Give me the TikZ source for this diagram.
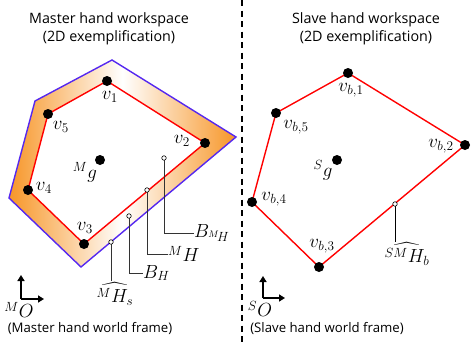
\RequirePackage{fix-cm}
\documentclass[tikz,border=0pt]{standalone}
\usepackage{amsmath}
\usepackage{fontspec}
\usetikzlibrary{arrows.meta}
\newfontfamily\sansf{Open Sans}
\definecolor{wsblue}{RGB}{85,40,240}
\definecolor{wsorange}{RGB}{247,150,40}
\begin{document}
\begin{tikzpicture}[x=1pt,y=-1pt,
  vtx/.style={circle,fill=black,inner sep=0pt,minimum size=10pt},
  pin/.style={circle,draw=black,fill=white,inner sep=0pt,minimum size=4.5pt,line width=0.6pt},
  lab/.style={inner sep=0pt,font=\fontsize{19}{22}\selectfont},
  ttl/.style={inner sep=0pt,font=\sansf\fontsize{14.3}{18}\selectfont,align=center},
  captxt/.style={inner sep=0pt,font=\sansf\fontsize{13.2}{16}\selectfont},
  lead/.style={draw=black!80,line width=0.8pt},
  redl/.style={draw=red,line width=1.4pt,line join=miter},
  bluel/.style={draw=wsblue,line width=1.4pt,line join=miter},
  frm/.style={line width=1.5pt,-{Triangle[width=7pt,length=6pt]}}]
\useasboundingbox (0,0) rectangle (472,343);
% master polygons
\coordinate (o1) at (112,60);
\coordinate (o2) at (236,137);
\coordinate (o3) at (81,267);
\coordinate (o4) at (9,198);
\coordinate (o5) at (35,101);
\coordinate (p1) at (107,81);
\coordinate (p2) at (205,143);
\coordinate (p3) at (84,244);
\coordinate (p4) at (28,190);
\coordinate (p5) at (48,114);
\shade[left color=wsorange,right color=wsorange,middle color=white]
  (o1) -- (o2) -- (o3) -- (o4) -- (o5) -- cycle;
\fill[white] (p1) -- (p2) -- (p3) -- (p4) -- (p5) -- cycle;
\draw[bluel] (o1) -- (o2) -- (o3) -- (o4) -- (o5) -- cycle;
\draw[redl] (p1) -- (p2) -- (p3) -- (p4) -- (p5) -- cycle;
\node[vtx] (v1) at (p1) {};
\node[vtx] (v2) at (p2) {};
\node[vtx] (v3) at (p3) {};
\node[vtx] (v4) at (p4) {};
\node[vtx] (v5) at (p5) {};
\node[vtx] (mg) at (100,160) {};
\node[lab] (lv1) at (110,97) {$v_1$};
\node[lab] (lv2) at (182,141) {$v_2$};
\node[lab] (lv3) at (85,228) {$v_3$};
\node[lab] (lv4) at (44,188) {$v_4$};
\node[lab] (lv5) at (61,127) {$v_5$};
\node[lab] (lmg) at (85,172) {$^{M}g$};
% pins and leaders
\node[lab,anchor=west] (lbmh) at (194,233) {$B_{{}^{M}\!H}$};
\node[lab,anchor=west] (lmh) at (168,254) {$^{M}H$};
\node[lab,anchor=west] (lbh) at (143,273) {$B_H$};
\node[lab] (lmhs) at (115,294) {$\widehat{{}^{M}H_s}$};
\draw[lead] (164,158) |- (lbmh.west);
\draw[lead] (147,190) |- (lmh.west);
\draw[lead] (129,216) |- (lbh.west);
\draw[lead] (111,242) -- (111,281);
\node[pin] (bmh) at (164,158) {};
\node[pin] (mh) at (147,190) {};
\node[pin] (bh) at (129,216) {};
\node[pin] (mhs) at (111,242) {};
% slave polygon
\coordinate (q1) at (348,73);
\coordinate (q2) at (465,145);
\coordinate (q3) at (319,267);
\coordinate (q4) at (252,202);
\coordinate (q5) at (276,113);
\draw[redl] (q1) -- (q2) -- (q3) -- (q4) -- (q5) -- cycle;
\node[vtx] (w1) at (q1) {};
\node[vtx] (w2) at (q2) {};
\node[vtx] (w3) at (q3) {};
\node[vtx] (w4) at (q4) {};
\node[vtx] (w5) at (q5) {};
\node[vtx] (sg) at (337,160) {};
\node[lab] (lw1) at (351,90) {$v_{b,1}$};
\node[lab] (lw2) at (441,146) {$v_{b,2}$};
\node[lab] (lw3) at (322,246) {$v_{b,3}$};
\node[lab] (lw4) at (274,199) {$v_{b,4}$};
\node[lab] (lw5) at (296,127) {$v_{b,5}$};
\node[lab] (lsg) at (323,170) {$^{S}g$};
\node[lab] (lsmh) at (407,254) {$\widehat{{}^{SM}H_b}$};
\draw[lead,draw=black] (395,204) -- (395,242);
\node[pin] (smh) at (395,204) {};
% frames
\coordinate (mo) at (21,299);
\coordinate (so) at (263,298);
\draw[frm] (mo) -- ++(0,-24);
\draw[frm] (mo) -- ++(23,0);
\draw[frm] (so) -- ++(0,-22);
\draw[frm] (so) -- ++(22,0);
\node[lab] (lmo) at (19,310) {$^{M}O$};
\node[lab] (lso) at (260,309) {$^{S}O$};
% texts
\node[ttl] (tm) at (109,29) {Master hand workspace\\(2D exemplification)};
\node[ttl] (ts) at (366,29) {Slave hand workspace\\(2D exemplification)};
\node[captxt] (cm) at (90,328) {(Master hand world frame)};
\node[captxt] (cs) at (327,328) {(Slave hand world frame)};
% divider
\coordinate (dt) at (242,0);
\coordinate (db) at (242,343);
\draw[line width=2pt,dash pattern=on 6pt off 4.5pt] (dt) -- (db);
\end{tikzpicture}
\end{document}
